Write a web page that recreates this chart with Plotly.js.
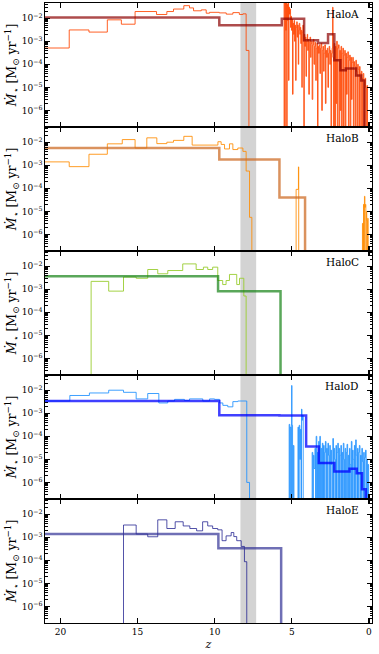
<!DOCTYPE html>
<html>
<head>
<meta charset="utf-8">
<script src="https://cdn.plot.ly/plotly-3.0.1.min.js"></script>
<style>
  html, body { margin: 0; padding: 0; background: #ffffff; }
  #chart { width: 379px; height: 654px; }
</style>
</head>
<body>
<div id="chart"></div>
<script>
/* Star formation histories of five haloes, SFR vs redshift (step lines) */

// Each series: redshift where a step starts, and the rate held until the next step.
// 1e-9 sits far below the axis, so the line drops out of the panel there.
const haloNames = ['HaloA', 'HaloB', 'HaloC', 'HaloD', 'HaloE'];

// ---- HaloA ----
const zA = [
  21.0, 19.43, 18.15, 16.96, 16.05, 15.16, 13.77, 13.1, 12.67, 12.0,
  11.63, 11.37, 10.87, 10.55, 10.33, 9.7, 9.25, 8.82, 8.4, 8.17,
  7.96, 7.78,
  5.5, 5.46, 5.42, 5.39, 5.36, 5.33, 5.3, 5.27, 5.24, 5.21,
  5.18, 5.15, 5.12, 5.08, 5.05, 5.02, 4.98, 4.95, 4.92, 4.88,
  4.85, 4.82, 4.78, 4.75, 4.72, 4.68, 4.65, 4.62, 4.58, 4.55,
  4.52, 4.48, 4.45, 4.42, 4.38, 4.35, 4.32, 4.28, 4.25, 4.22,
  4.19, 4.15, 4.12, 4.08, 4.05, 4.0, 3.97, 3.93, 3.9, 3.86,
  3.82, 3.78, 3.75, 3.71, 3.68, 3.64, 3.6, 3.56, 3.52, 3.48,
  3.45, 3.41, 3.37, 3.33, 3.3, 3.26, 3.22, 3.18, 3.14, 3.1,
  3.06, 3.02, 2.98, 2.94, 2.9, 2.86, 2.82, 2.78, 2.74, 2.7,
  2.66, 2.62, 2.58, 2.54, 2.5, 2.46, 2.42, 2.38, 2.35, 2.33,
  2.29,
  2.25, 2.21, 2.17, 2.13, 2.09, 2.05, 2.01, 1.97, 1.93, 1.89,
  1.85, 1.81, 1.77, 1.73, 1.69, 1.65, 1.61, 1.57, 1.53, 1.49,
  1.45, 1.41, 1.37, 1.33, 1.29, 1.25, 1.21, 1.17, 1.13, 1.09,
  1.05, 1.01, 0.97, 0.93, 0.89, 0.85, 0.81, 0.77, 0.73, 0.69,
  0.65, 0.61, 0.57, 0.53, 0.49, 0.45, 0.41, 0.37, 0.33, 0.29,
  0.25, 0.21, 0.17, 0.13, 0.09, 0.0
];
const sfrA = [
  5.1e-4, 3.1e-3, 2.5e-3, 8.5e-3, 5.5e-3, 1.95e-2, 1.45e-2, 1.95e-2, 2.5e-2, 3.5e-2,
  2.8e-2, 2.1e-2, 2.3e-2, 1.65e-2, 1.8e-2, 1.7e-2, 1.5e-2, 1.75e-2, 1.45e-2, 1.55e-2,
  4.0e-4, 1e-9,
  6e-2, 1e-9, 5e-2, 3e-3, 6e-2, 1e-9, 4e-2, 8e-3, 6e-2, 2e-5,
  3e-2, 1.5e-2, 2.5e-2, 4e-3, 1.2e-2, 3e-3, 9e-3, 5e-6, 6e-3, 2e-3,
  8e-3, 1e-3, 5e-3, 2e-5, 4e-3, 7e-3, 1.5e-3, 5e-3, 1e-4, 3e-3,
  6e-3, 2e-3, 4e-3, 8e-4, 3e-3, 1e-5, 2.5e-3, 5e-3, 1e-3, 1e-9,
  2e-3, 6e-4, 1.5e-3, 3e-5, 1e-3, 2e-3, 4e-4, 1.2e-3, 5e-6, 9e-4,
  1.5e-3, 2e-4, 8e-4, 1e-3, 3e-6, 7e-4, 1.2e-3, 1e-4, 6e-4, 9e-4,
  2e-5, 5e-4, 8e-4, 1e-9, 6e-4, 3e-4, 7e-4, 4e-5, 5e-4, 8e-4,
  1e-6, 4e-4, 6e-4, 5e-5, 3e-4, 7e-4, 2e-6, 4e-4, 2e-4, 5e-4,
  1e-5, 3e-4, 6e-4, 1e-4, 4e-4, 1e-9, 3e-4, 5e-4, 3e-2, 2e-4,
  1e-9,
  8e-4, 1e-9, 6e-4, 2e-6, 1e-3, 1e-9, 5e-4, 7e-4, 1e-9, 4e-4,
  1e-6, 6e-4, 1e-9, 3e-4, 5e-4, 1e-9, 2.5e-4, 4e-4, 1e-9, 3e-4,
  5e-6, 2e-4, 3.5e-4, 1e-9, 1.5e-4, 2.5e-4, 1e-9, 2e-4, 3e-6, 1.2e-4,
  2e-4, 1e-9, 1.3e-4, 8e-5, 1e-9, 1.5e-4, 5e-5, 1e-9, 1e-4, 6e-5,
  1e-9, 8e-5, 4e-5, 1e-9, 5e-5, 2.5e-5, 1e-9, 4e-5, 2e-5, 1e-9,
  2.5e-5, 1e-5, 1e-9, 1.2e-5, 1e-9, 1e-9
];
const zA_bin = [21.0, 9.7, 5.65, 4.2, 3.3, 2.65, 2.24, 1.85, 1.5, 0.83, 0.5, 0.29, 0.0];
const sfrA_bin = [1.07e-2, 5.0e-3, 9.5e-3, 1.1e-3, 8.5e-4, 2.0e-3, 1.5e-4, 5.5e-5, 6.5e-5, 3.3e-5, 2.0e-5, 1e-9, 1e-9];

// ---- HaloB ----
const zB = [
  21.0, 19.43, 18.15, 16.96, 15.99, 15.16, 14.4, 13.75, 13.1, 12.67,
  12.0, 11.46, 9.79, 9.58, 9.36, 9.04, 8.82, 8.5, 8.17, 7.96,
  7.74, 7.59, 4.72, 4.57, 4.55, 0.42, 0.38, 0.35, 0.32, 0.29,
  0.26, 0.23, 0.2, 0.17, 0.14, 0.11, 0.08, 0.05, 0.0
];
const sfrB = [
  1.4e-3, 8.7e-4, 3.0e-3, 8.5e-3, 1.3e-2, 5.6e-3, 1.55e-2, 8.7e-3, 1.0e-2, 1.2e-2,
  1.8e-2, 7.5e-3, 1.05e-2, 8e-3, 5.1e-3, 8.5e-3, 4.8e-3, 5.6e-3, 4.0e-3, 5.6e-4,
  5.5e-6, 1e-9, 9e-5, 8.5e-4, 1e-9, 3e-6, 1e-9, 2e-5, 1e-9, 4.5e-5,
  1.5e-5, 2e-5, 1e-9, 1e-5, 4e-6, 1e-9, 5e-6, 1e-9, 1e-9
];
const zB_bin = [21.0, 9.7, 5.8, 4.14, 0.0];
const sfrB_bin = [5.6e-3, 1.8e-3, 4.0e-5, 1e-9, 1e-9];

// ---- HaloC ----
const zC = [
  21.0, 18.01, 16.87, 15.91, 15.09, 14.34, 13.69, 13.04, 12.07, 11.2,
  10.73, 10.45, 10.13, 9.8, 9.48, 9.26, 9.04, 8.57, 8.39, 8.11,
  7.96, 0.0
];
const sfrC = [
  1e-9, 2.2e-3, 8.3e-4, 3.4e-3, 3.0e-3, 7.2e-3, 4.7e-3, 6.5e-3, 1.26e-2, 7.2e-3,
  9.1e-3, 7.2e-3, 9.1e-3, 2.4e-3, 1.6e-3, 2.4e-3, 4.4e-3, 1.6e-3, 3.0e-3, 5.1e-4,
  1e-9, 1e-9
];
const zC_bin = [21.0, 9.78, 5.73, 0.0];
const sfrC_bin = [3.7e-3, 8.3e-4, 1e-9, 1e-9];

// ---- HaloD ----
const zD = [
  21.0, 19.39, 18.12, 16.87, 15.91, 15.09, 14.34, 13.62, 13.04, 12.6,
  11.96, 11.63, 10.77, 10.33, 10.01, 9.69, 9.47, 9.15, 8.82, 8.5,
  7.92, 7.74,
  5.17, 5.13, 5.1, 5.05, 5.01, 4.99, 4.95, 4.9, 4.86, 4.6,
  4.56, 4.52, 4.48, 4.44, 4.4, 4.37, 4.34, 4.3, 4.26, 3.68,
  3.64, 3.6, 3.56, 3.5, 3.46, 3.42, 3.38, 3.34, 3.3, 3.26,
  3.22, 3.18, 3.15, 3.1, 3.06, 3.02,
  2.98, 2.94, 2.9, 2.86, 2.82, 2.78, 2.74, 2.7, 2.66, 2.62,
  2.58, 2.54, 2.5, 2.46, 2.42, 2.38, 2.34, 2.3, 2.26, 2.22,
  2.18, 2.14, 2.1, 2.06, 2.02, 1.98, 1.94, 1.9, 1.86, 1.82,
  1.78, 1.74, 1.7, 1.66, 1.62, 1.58, 1.54, 1.5, 1.46, 1.42,
  1.38, 1.34, 1.3, 1.26, 1.22, 1.18, 1.14, 1.1, 1.06, 1.02,
  0.98, 0.94, 0.9, 0.86, 0.82, 0.78, 0.74, 0.7, 0.66, 0.62,
  0.58, 0.54, 0.5, 0.46, 0.42, 0.38, 0.34, 0.3, 0.26, 0.22,
  0.18, 0.14, 0.1, 0.06, 0.02, 0.0
];
const sfrD = [
  3.4e-3, 5.9e-3, 7.6e-3, 1.0e-2, 8.1e-3, 4.2e-3, 7.2e-3, 2.8e-3, 3.4e-3, 4.0e-3,
  3.6e-3, 4.2e-3, 3.4e-3, 4.2e-3, 4.0e-3, 2.8e-3, 2.2e-3, 1.9e-3, 3.2e-3, 3.4e-3,
  1.0e-6, 1e-9,
  3.3e-4, 1e-9, 2.5e-4, 1e-9, 1.6e-2, 3e-4, 1e-9, 4e-5, 1e-9, 2.5e-4,
  1e-9, 3e-4, 1e-5, 2e-4, 1e-9, 1.5e-3, 5e-4, 8e-4, 1e-9, 2e-5,
  1e-9, 1.5e-5, 4e-6, 3e-5, 1e-9, 1e-4, 1e-9, 2e-5, 1e-9, 6e-5,
  1e-9, 1e-4, 1e-9, 3e-5, 1e-9, 5e-5,
  1e-9, 4e-5, 1e-9, 2e-5, 6e-5, 1e-9, 3e-5, 1e-9, 5e-5, 1.5e-5,
  1e-9, 4e-5, 1e-9, 2.5e-5, 6e-6, 1e-9, 8e-5, 1e-9, 3e-5, 1e-5,
  1e-9, 4e-5, 1e-9, 2e-5, 5e-5, 1e-9, 3e-5, 1e-9, 1.5e-5, 4e-5,
  1e-9, 2e-5, 1e-9, 5e-5, 1e-5, 1e-9, 3e-5, 1e-9, 2e-5, 4.5e-5,
  1e-9, 1.5e-5, 1e-9, 3e-5, 6e-6, 1e-9, 6e-5, 1e-9, 2.5e-5, 1e-5,
  1e-9, 4e-5, 1e-9, 7e-5, 1.5e-5, 1e-9, 3e-5, 1e-9, 2e-5, 4e-5,
  1e-9, 1.5e-5, 1e-9, 3e-5, 8e-6, 1e-9, 2e-5, 1e-9, 1.2e-5, 2.5e-5,
  1e-9, 1e-5, 1e-9, 6e-6, 1e-9, 1e-9
];
const zD_bin = [21.0, 9.7, 5.8, 4.07, 3.25, 2.24, 1.26, 0.79, 0.45, 0.2, 0.0];
const sfrD_bin = [3.4e-3, 8.3e-4, 8.0e-4, 3.6e-5, 6.9e-6, 3.0e-6, 3.9e-6, 2.5e-6, 5e-7, 1e-9, 1e-9];

// ---- HaloE ----
const zE = [
  21.0, 15.91, 15.09, 14.34, 13.69, 13.1, 12.56, 12.04, 11.61, 11.17,
  10.78, 10.45, 10.13, 9.8, 9.52, 9.26, 8.93, 8.76, 8.57, 8.28,
  8.07, 7.92, 0.0
];
const sfrE = [
  1e-9, 3.4e-3, 1.38e-3, 1.05e-3, 5.7e-3, 2.4e-3, 4.7e-3, 3.1e-3, 2.4e-3, 1.9e-3,
  4.7e-3, 3.1e-3, 2.4e-3, 2.1e-3, 7.1e-4, 1.15e-3, 1.6e-3, 1.07e-3, 7.1e-4, 4e-4,
  8.7e-5, 1e-9, 1e-9
];
const zE_bin = [21.0, 9.76, 5.69, 0.0];
const sfrE_bin = [1.38e-3, 3.3e-4, 1e-9, 1e-9];

// shaded redshift window
const bandZ = [7.31, 8.33];

// line colours: thin history, thick binned
const thinColors = ['rgba(255,69,0,0.85)', 'rgba(255,140,0,0.85)', 'rgba(154,205,50,0.9)', 'rgba(30,144,255,0.85)', 'rgba(25,25,140,0.75)'];
const thickColors = ['rgba(139,0,0,0.7)', 'rgba(205,110,40,0.75)', 'rgba(20,130,20,0.7)', 'rgba(0,0,255,0.75)', 'rgba(50,50,150,0.7)'];

const seriesZ = [zA, zB, zC, zD, zE];
const seriesSfr = [sfrA, sfrB, sfrC, sfrD, sfrE];
const binZ = [zA_bin, zB_bin, zC_bin, zD_bin, zE_bin];
const binSfr = [sfrA_bin, sfrB_bin, sfrC_bin, sfrD_bin, sfrE_bin];

const SERIF = 'DejaVu Serif, serif';

function stepTrace(z, v, color, width, idx) {
  const s = idx === 0 ? '' : String(idx + 1);
  return {
    x: z,
    y: v,
    type: 'scatter',
    mode: 'lines',
    line: { shape: 'hv', color: color, width: width, simplify: false },
    xaxis: 'x' + s,
    yaxis: 'y' + s,
    hoverinfo: 'skip',
    showlegend: false
  };
}

function drawChart() {
  const traces = [];
  const layout = {
    width: 379,
    height: 654,
    margin: { l: 45, r: 7, t: 3, b: 31 },
    paper_bgcolor: '#ffffff',
    plot_bgcolor: '#ffffff',
    font: { family: SERIF, size: 9, color: '#000000' },
    showlegend: false,
    shapes: [],
    annotations: []
  };

  const nPanels = haloNames.length;

  for (let i = 0; i < nPanels; i++) {
    const s = i === 0 ? '' : String(i + 1);

    // 1. thin line (full history) then thick line (coarse bins) on top
    traces.push(stepTrace(seriesZ[i], seriesSfr[i], thinColors[i], 1, i));
    traces.push(stepTrace(binZ[i], binSfr[i], thickColors[i], 2.5, i));

    // 2. axes for this panel
    const top = (nPanels - i) / nPanels;
    const bottom = (nPanels - i - 1) / nPanels;
    const isLast = i === nPanels - 1;

    layout['xaxis' + s] = {
      range: [21.0, -0.2],
      anchor: 'y' + s,
      showline: true,
      linecolor: '#000000',
      linewidth: 1,
      mirror: 'allticks',
      ticks: 'inside',
      ticklen: 5,
      tickwidth: 1.2,
      tickcolor: '#000000',
      tickvals: [0, 5, 10, 15, 20],
      ticktext: ['0', '5', '10', '15', '20'],
      showticklabels: isLast,
      tickfont: { family: SERIF, size: 9 },
      showgrid: false,
      zeroline: false,
      fixedrange: true
    };
    if (isLast) {
      layout['xaxis' + s].title = { text: '<i>z</i>', font: { family: SERIF, size: 11 }, standoff: 4 };
    }

    layout['yaxis' + s] = {
      type: 'log',
      range: [-6.72, -1.34],
      domain: [bottom, top],
      anchor: 'x' + s,
      dtick: 1,
      exponentformat: 'power',
      showline: true,
      linecolor: '#000000',
      linewidth: 1,
      mirror: 'allticks',
      ticks: 'inside',
      ticklen: 5,
      tickwidth: 1.2,
      tickcolor: '#000000',
      minor: { ticks: 'inside', ticklen: 2.5, tickwidth: 1, tickcolor: '#000000', dtick: 'D1', showgrid: false },
      tickfont: { family: SERIF, size: 7.2 },
      showgrid: false,
      zeroline: false,
      fixedrange: true,
      title: {
        text: '<i>Ṁ</i><sub>⋆</sub> [M<sub>⊙</sub> yr<sup>−1</sup>]',
        font: { family: SERIF, size: 12.5 },
        standoff: 2
      }
    };

    // 3. halo name in the top right corner
    layout.annotations.push({
      text: haloNames[i],
      xref: 'x' + s + ' domain',
      yref: 'y' + s + ' domain',
      x: 0.965,
      y: 0.975,
      xanchor: 'right',
      yanchor: 'top',
      showarrow: false,
      font: { family: SERIF, size: 10.5, color: '#000000' }
    });
  }

  // 4. grey band across every panel
  layout.shapes.push({
    type: 'rect',
    xref: 'x',
    yref: 'paper',
    x0: bandZ[0],
    x1: bandZ[1],
    y0: 0,
    y1: 1,
    fillcolor: '#d3d3d3',
    line: { width: 0 },
    layer: 'below'
  });

  Plotly.newPlot('chart', traces, layout, { staticPlot: true, displayModeBar: false });
}

drawChart();
</script>
</body>
</html>
